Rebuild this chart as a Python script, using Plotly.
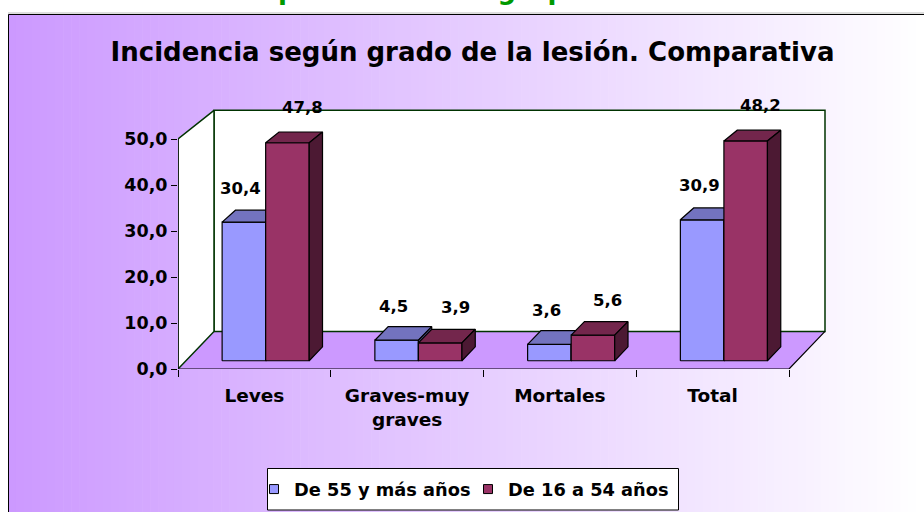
import plotly.graph_objects as go

# ---------------- data ----------------
categories = ["Leves", "Graves-muy<br>graves", "Mortales", "Total"]
serie_55 = [30.4, 4.5, 3.6, 30.9]
serie_16 = [47.8, 3.9, 5.6, 48.2]
series_names = ["De 55 y más años", "De 16 a 54 años"]
y_ticks = [0, 10, 20, 30, 40, 50]
title_text = "Incidencia según grado de la lesión. Comparativa"
header_text = "Comparativa entre grupos de edad"

# ---------------- geometry / style ----------------
W, H = 924, 512
ML, MR, MT, MB = 178, 98, 100, 143
PW = W - ML - MR
PH = H - MT - MB
PX_PER_CAT = 152.75
PX_PER_VAL = 4.6
x_range = [-0.5, -0.5 + PW / PX_PER_CAT]
y_range = [0, PH / PX_PER_VAL]

DEPTH_DX = 36 / PX_PER_CAT
DEPTH_DY = 37.6 / PX_PER_VAL
SHRINK = 0.039
VMAX = y_ticks[-1]
NCAT = len(categories)
X0, X1 = -0.5, NCAT - 0.5

FONT = "DejaVu Sans"
GREEN = "#003300"
cols_front = ["#9999FF", "#993366"]
cols_top = ["#7373BF", "#73264C"]
cols_side = ["#4C4C80", "#4C1933"]


def proj(x, v, d):
    return x + DEPTH_DX * d, v * (1 - SHRINK * d) + DEPTH_DY * d


def polys(list_of_pts):
    xs, ys = [], []
    for pts in list_of_pts:
        for p in pts + [pts[0]]:
            px, py = proj(*p)
            xs.append(px)
            ys.append(py)
        xs.append(None)
        ys.append(None)
    return xs, ys


def px2x(px):
    return (px - ML) / PW


def py2y(py):
    return (H - MB - py) / PH


fig = go.Figure()

# floor
fx, fy = polys([[(X0, 0, 0), (X1, 0, 0), (X1, 0, 1), (X0, 0, 1)]])
fig.add_trace(go.Scatter(x=fx, y=fy, fill="toself", fillcolor="#CC99FF", mode="none",
                         showlegend=False, hoverinfo="skip"))
# back wall
bx, by = polys([[(X0, 0, 1), (X1, 0, 1), (X1, VMAX, 1), (X0, VMAX, 1)]])
fig.add_trace(go.Scatter(x=bx, y=by, fill="toself", fillcolor="white", mode="lines",
                         line=dict(color=GREEN, width=1.5), showlegend=False, hoverinfo="skip"))
# side wall
sx, sy = polys([[(X0, 0, 0), (X0, 0, 1), (X0, VMAX, 1), (X0, VMAX, 0)]])
fig.add_trace(go.Scatter(x=sx, y=sy, fill="toself", fillcolor="white", mode="lines",
                         line=dict(color=GREEN, width=1.5), showlegend=False, hoverinfo="skip"))
# front axis edges (black)
ex, ey = [], []
for p in [(X0, VMAX, 0), (X0, 0, 0), (X1, 0, 0), (X1, 0, 1)]:
    a, b = proj(*p)
    ex.append(a)
    ey.append(b)
fig.add_trace(go.Scatter(x=ex, y=ey, mode="lines", line=dict(color="black", width=1.2),
                         showlegend=False, hoverinfo="skip"))

# bars
BAR_W = 0.285
GROUP_SHIFT = 0.022
DF, DB = 0.22, 0.59
label_shift = [(-3, 34), (15, 35)]
annotations = []
for s, vals in enumerate([serie_55, serie_16]):
    fronts, tops, sides = [], [], []
    for i, v in enumerate(vals):
        xl = i + GROUP_SHIFT - BAR_W + s * BAR_W
        xr = xl + BAR_W
        fronts.append([(xl, 0, DF), (xr, 0, DF), (xr, v, DF), (xl, v, DF)])
        tops.append([(xl, v, DF), (xr, v, DF), (xr, v, DB), (xl, v, DB)])
        sides.append([(xr, 0, DF), (xr, 0, DB), (xr, v, DB), (xr, v, DF)])
        lx, ly = proj((xl + xr) / 2, v, DF)
        annotations.append(dict(x=lx, y=ly, xref="x", yref="y", showarrow=False,
                                text=f"{v:.1f}".replace(".", ","),
                                xshift=label_shift[s][0], yshift=label_shift[s][1],
                                font=dict(family=FONT, size=16.5, color="black", weight="bold")))
    for faces, col in [(fronts, cols_front[s]), (tops, cols_top[s]), (sides, cols_side[s])]:
        xs, ys = polys(faces)
        fig.add_trace(go.Scatter(x=xs, y=ys, fill="toself", fillcolor=col, mode="lines",
                                 line=dict(color="black", width=1.2), showlegend=False,
                                 hoverinfo="skip"))

# legend entries
for s in range(2):
    fig.add_trace(go.Scatter(x=[None], y=[None], mode="markers", name=series_names[s],
                             marker=dict(symbol="square", size=9, color=cols_front[s],
                                         line=dict(color="black", width=1))))

# background gradient + frames
shapes = []
N = 116
x_start, x_end = 8, W
step = (x_end - x_start) / N
c0 = (204, 153, 255)
c1 = (255, 255, 255)
for k in range(N):
    f = (k + 0.5) / N
    col = "rgb({},{},{})".format(*[round(a + (b - a) * f) for a, b in zip(c0, c1)])
    shapes.append(dict(type="rect", xref="paper", yref="paper", layer="below",
                       x0=px2x(x_start + k * step), x1=px2x(x_start + (k + 1) * step + 0.6),
                       y0=py2y(14), y1=py2y(H + 2), fillcolor=col, line=dict(width=0)))
shapes.append(dict(type="line", xref="paper", yref="paper", layer="below",
                   x0=px2x(8), x1=px2x(W + 2), y0=py2y(13), y1=py2y(13),
                   line=dict(color="#BBBBBB", width=1)))
shapes.append(dict(type="rect", xref="paper", yref="paper", layer="below",
                   x0=px2x(8.5), x1=px2x(W + 5), y0=py2y(14.5), y1=py2y(H + 5),
                   line=dict(color="black", width=1), fillcolor="rgba(0,0,0,0)"))
# legend box
shapes.append(dict(type="rect", xref="paper", yref="paper", layer="below",
                   x0=px2x(267.5), x1=px2x(678.5), y0=py2y(468.5), y1=py2y(510),
                   line=dict(color="black", width=1), fillcolor="white"))

annotations.append(dict(x=px2x(470), y=py2y(-10), xref="paper", yref="paper",
                        showarrow=False, text=header_text, yanchor="middle",
                        font=dict(family=FONT, size=26, color="#009900", weight="bold")))

fig.update_layout(
    width=W, height=H,
    margin=dict(l=ML, r=MR, t=MT, b=MB, autoexpand=False),
    paper_bgcolor="white",
    plot_bgcolor="rgba(0,0,0,0)",
    title=dict(text=title_text, x=472.5 / W, xanchor="center", y=1 - 52 / H,
               yanchor="middle", xref="container", yref="container",
               font=dict(family=FONT, size=26, color="black", weight="bold")),
    xaxis=dict(range=x_range, tickvals=list(range(NCAT)), ticktext=categories,
               ticks="", showgrid=False, zeroline=False, showline=False,
               ticklabelstandoff=13,
               tickfont=dict(family=FONT, size=18.5, color="black", weight="bold"),
               minor=dict(tickvals=[i - 0.5 for i in range(NCAT + 1)], ticks="outside",
                          ticklen=7, tickcolor="black", tickwidth=1, showgrid=False)),
    yaxis=dict(range=y_range, tickvals=y_ticks,
               ticktext=[f"{t:.1f}".replace(".", ",") for t in y_ticks],
               ticks="outside", ticklen=6, tickcolor="black", tickwidth=1,
               showgrid=False, zeroline=False, showline=False,
               tickfont=dict(family=FONT, size=17.5, color="black", weight="bold")),
    legend=dict(orientation="h", x=px2x(254), xanchor="left", y=py2y(489.5),
                yanchor="middle", bgcolor="rgba(0,0,0,0)", borderwidth=0,
                entrywidth=169, entrywidthmode="pixels",
                font=dict(family=FONT, size=17.8, color="black", weight="bold")),
    shapes=shapes,
    annotations=annotations,
)

fig.write_html("out.html", config={"displayModeBar": False},
               post_script="document.body.style.margin='0px';document.body.style.overflow='hidden';")
